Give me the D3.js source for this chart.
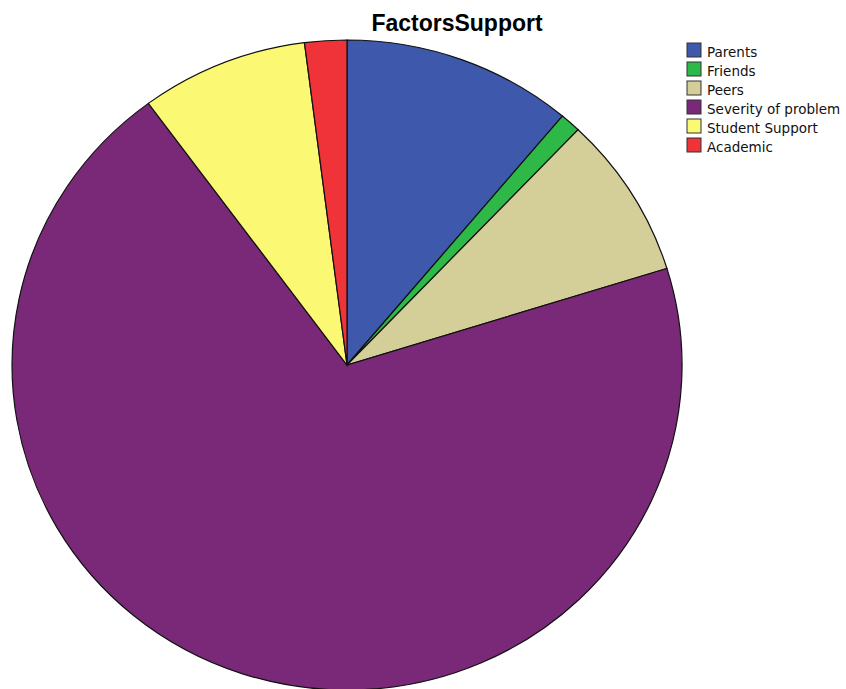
<!DOCTYPE html>
<html>
<head>
<meta charset="utf-8">
<script src="https://cdn.jsdelivr.net/npm/d3@7"></script>
<style>
  body { margin: 0; background: #fff; }
  svg { display: block; font-family: "Liberation Sans", Arial, sans-serif; }
</style>
</head>
<body>
<div id="chart"></div>
<script>
// categories et effectifs
const categories = ["Parents", "Friends", "Peers", "Severity of problem", "Student Support", "Academic"]
const counts = [11, 1, 8, 69, 8, 2]
const colors = ["#3e58ac", "#2eb848", "#d4ce99", "#7a2878", "#fbf873", "#ef3338"]

const width = 846, height = 689

const svg = d3.select("#chart")
    .append("svg")
    .attr("width", width)
    .attr("height", height)

// Titre
svg.append("text")
    .attr("x", 457)
    .attr("y", 31)
    .attr("text-anchor", "middle")
    .attr("font-size", 23)
    .attr("font-weight", "bold")
    .text("FactorsSupport")

// camembert (légèrement elliptique comme l'original)
const pie = d3.pie().sort(null).value(d => d)
const arc = d3.arc().innerRadius(0).outerRadius(1)

const g = svg.append("g")
    .attr("transform", "translate(347,365) scale(335,325)")

g.selectAll("path")
    .data(pie(counts))
    .join("path")
    .attr("d", arc)
    .attr("fill", (d, i) => colors[i])
    .attr("stroke", "#111")
    .attr("stroke-width", 1.2)
    .attr("vector-effect", "non-scaling-stroke")

// Légende
const legend = svg.append("g")
    .attr("transform", "translate(687,43)")

const rows = legend.selectAll("g")
    .data(categories)
    .join("g")
    .attr("transform", (d, i) => "translate(0," + (i * 19) + ")")

rows.append("rect")
    .attr("width", 14)
    .attr("height", 14)
    .attr("fill", (d, i) => colors[i])
    .attr("stroke", "#333")
    .attr("stroke-width", 1)

rows.append("text")
    .attr("x", 20)
    .attr("y", 13.5)
    .attr("font-family", "DejaVu Sans, sans-serif")
    .attr("font-size", 13.5)
    .attr("fill", "#111")
    .text(d => d)
</script>
</body>
</html>
